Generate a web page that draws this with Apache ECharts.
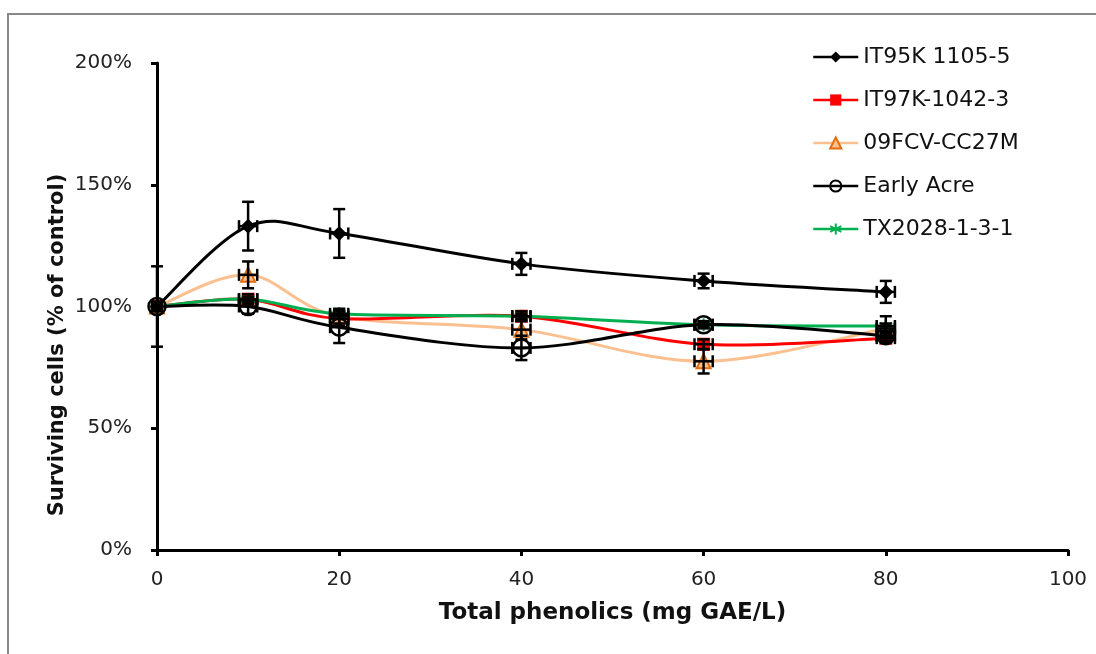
<!DOCTYPE html>
<html>
<head>
<meta charset="utf-8">
<script src="https://cdn.jsdelivr.net/npm/echarts@6/dist/echarts.min.js"></script>
<style>
  html, body { margin: 0; padding: 0; background: #fff; }
  #chart { width: 1096px; height: 654px; }
</style>
</head>
<body>
<div id="chart"></div>
<script>
// Concentration of total phenolics (mg GAE/L)
const doses = [0, 10, 20, 40, 60, 80];

// Surviving cells (% of control) per cultivar
const it95k = [100, 133, 130, 117.5, 110.5, 106];
const it97k = [100, 103, 95, 96, 84.5, 87];
const fcv = [100, 113, 96, 90.5, 77.5, 91];
const earlyAcre = [100, 100, 91.5, 83, 92.5, 88];
const tx2028 = [100, 103, 97, 96, 92.5, 92];

// Standard errors (% of control)
const it95kErr = [16.5, 10, 10, 4.5, 3, 4.5];
const it97kErr = [1, 2, 3, 2, 2, 2];
const fcvErr = [1, 5.5, 3, 4, 5, 2];
const earlyAcreErr = [2, 3, 6.5, 5, 1.5, 2];
const tx2028Err = [1, 1, 2, 1, 1, 4];

// Horizontal error on the dose (mg GAE/L)
const doseErr = [0, 1, 1, 1, 1, 1];

const seriesNames = ['IT95K 1105-5', 'IT97K-1042-3', '09FCV-CC27M', 'Early Acre', 'TX2028-1-3-1'];
const yTicks = [0, 50, 100, 150, 200];
const xTicks = [0, 20, 40, 60, 80, 100];

const FONT = '"DejaVu Sans", sans-serif';
const asterisk = 'path://M0,-10L0,10M-8.7,-5L8.7,5M-8.7,5L8.7,-5';

function pairs(values) {
  return doses.map((d, i) => [d, values[i]]);
}

function errorData(values, errs) {
  return doses.map((d, i) => [d, values[i], errs[i], doseErr[i]]);
}

function renderErrorBar(params, api) {
  const x = api.value(0), y = api.value(1), ye = api.value(2), xe = api.value(3);
  const top = api.coord([x, y + ye]);
  const bot = api.coord([x, y - ye]);
  const mid = api.coord([x, y]);
  const left = api.coord([x - xe, y]);
  const right = api.coord([x + xe, y]);
  const cap = 6;
  const style = { stroke: '#000', lineWidth: 2.5 };
  const children = [
    { type: 'line', shape: { x1: top[0], y1: top[1], x2: bot[0], y2: bot[1] }, style },
    { type: 'line', shape: { x1: top[0] - cap, y1: top[1], x2: top[0] + cap, y2: top[1] }, style },
    { type: 'line', shape: { x1: bot[0] - cap, y1: bot[1], x2: bot[0] + cap, y2: bot[1] }, style }
  ];
  if (xe > 0) {
    children.push(
      { type: 'line', shape: { x1: left[0], y1: mid[1], x2: right[0], y2: mid[1] }, style },
      { type: 'line', shape: { x1: left[0], y1: mid[1] - cap, x2: left[0], y2: mid[1] + cap }, style },
      { type: 'line', shape: { x1: right[0], y1: mid[1] - cap, x2: right[0], y2: mid[1] + cap }, style }
    );
  }
  return { type: 'group', children };
}

// Smoothed connecting curve: cubic Bezier segments with Catmull-Rom style
// control points (1/6 of the neighbour chord), computed in pixel space.
function curveSeries(values, color, z) {
  return {
    type: 'custom', data: pairs(values), encode: { x: 0, y: 1 }, z, silent: true,
    renderItem(params, api) {
      const i = params.dataIndex;
      const n = doses.length;
      if (i >= n - 1) return null;
      const p = k => api.coord([doses[Math.max(0, Math.min(n - 1, k))], values[Math.max(0, Math.min(n - 1, k))]]);
      const p0 = p(i - 1), p1 = p(i), p2 = p(i + 1), p3 = p(i + 2);
      const t = 1 / 6;
      return {
        type: 'bezierCurve',
        shape: {
          x1: p1[0], y1: p1[1], x2: p2[0], y2: p2[1],
          cpx1: p1[0] + (p2[0] - p0[0]) * t, cpy1: p1[1] + (p2[1] - p0[1]) * t,
          cpx2: p2[0] - (p3[0] - p1[0]) * t, cpy2: p2[1] - (p3[1] - p1[1]) * t
        },
        style: { fill: null, stroke: color, lineWidth: 3 }
      };
    }
  };
}

function markerSeries(name, values, color, symbol, size, itemStyle, z) {
  return {
    name, type: 'line', data: pairs(values),
    symbol, symbolSize: size,
    lineStyle: { color, width: 3, opacity: 0 },
    itemStyle, z
  };
}

function errSeries(values, errs) {
  return {
    type: 'custom', renderItem: renderErrorBar, data: errorData(values, errs),
    encode: { x: 0, y: 1 }, z: 6, silent: true
  };
}

const chart = echarts.init(document.getElementById('chart'));
chart.setOption({
  animation: false,
  backgroundColor: '#fff',
  graphic: [
    {
      type: 'rect', shape: { x: 8, y: 14, width: 1200, height: 800 },
      style: { fill: 'none', stroke: '#888', lineWidth: 2 }, z: -10, silent: true
    },
    {
      type: 'text', x: 58, y: 345, rotation: Math.PI / 2,
      style: {
        text: 'Surviving cells (% of control)', fill: '#111',
        font: 'bold 21px "DejaVu Sans", sans-serif', align: 'center', verticalAlign: 'middle'
      },
      silent: true
    }
  ],
  grid: { left: 157, right: 28, top: 63, bottom: 104 },
  legend: {
    orient: 'vertical', left: 807, top: 41,
    itemWidth: 45, itemHeight: 14, itemGap: 21,
    data: seriesNames,
    lineStyle: { opacity: 1, width: 2.5 },
    textStyle: { fontFamily: FONT, fontSize: 22, lineHeight: 14, color: '#111' }
  },
  xAxis: {
    type: 'value', min: 0, max: 100, interval: 20,
    name: 'Total phenolics (mg GAE/L)', nameLocation: 'middle', nameGap: 52,
    nameTextStyle: { fontFamily: FONT, fontSize: 23, fontWeight: 'bold', color: '#111' },
    axisLine: { lineStyle: { color: '#000', width: 3 } },
    axisTick: { show: true, length: 6, lineStyle: { color: '#000', width: 3 } },
    axisLabel: {
      fontFamily: FONT, fontSize: 20, color: '#222', margin: 20,
      formatter: v => xTicks.includes(v) ? String(v) : ''
    },
    splitLine: { show: false }
  },
  yAxis: {
    type: 'value', min: 0, max: 200, interval: 50,
    axisLine: { show: true, lineStyle: { color: '#000', width: 3 } },
    axisTick: { show: true, length: 6, lineStyle: { color: '#000', width: 3 } },
    axisLabel: {
      fontFamily: FONT, fontSize: 20, color: '#222', margin: 25,
      formatter: v => yTicks.includes(v) ? v + '%' : ''
    },
    splitLine: { show: false }
  },
  series: [
    curveSeries(fcv, '#fac090', 1),
    curveSeries(it97k, '#ff0000', 2),
    curveSeries(tx2028, '#00b050', 2),
    curveSeries(earlyAcre, '#000', 2),
    curveSeries(it95k, '#000', 2),
    markerSeries(seriesNames[0], it95k, '#000', 'diamond', 15, { color: '#000' }, 5),
    markerSeries(seriesNames[1], it97k, '#ff0000', 'rect', 13, { color: '#ff0000' }, 3),
    markerSeries(seriesNames[2], fcv, '#fac090', 'triangle', 14,
      { color: '#fac090', borderColor: '#e46c0a', borderWidth: 2 }, 3),
    markerSeries(seriesNames[3], earlyAcre, '#000', 'circle', 17,
      { color: 'rgba(255,255,255,0)', borderColor: '#000', borderWidth: 2.5 }, 4),
    markerSeries(seriesNames[4], tx2028, '#00b050', asterisk, 13,
      { color: '#00b050', borderColor: '#00b050', borderWidth: 2 }, 4),
    errSeries(it95k, it95kErr),
    errSeries(it97k, it97kErr),
    errSeries(fcv, fcvErr),
    errSeries(earlyAcre, earlyAcreErr),
    errSeries(tx2028, tx2028Err)
  ]
});
</script>
</body>
</html>
